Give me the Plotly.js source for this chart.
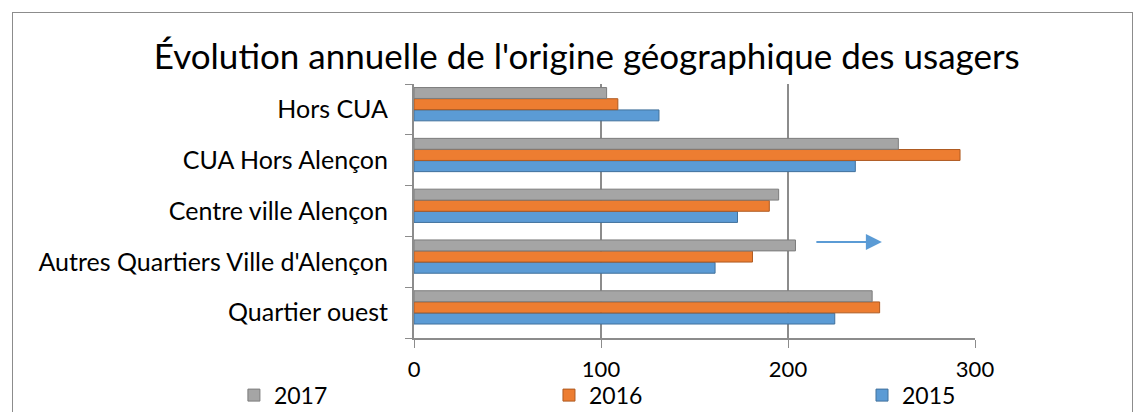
<!DOCTYPE html>
<html>
<head>
<meta charset="utf-8">
<script src="https://cdn.plot.ly/plotly-3.0.1.min.js"></script>
<style>
html,body{margin:0;padding:0;background:#fff;}
#chart{width:1146px;height:412px;}
#frame{position:absolute;left:12px;top:12px;width:1121px;height:420px;border:1px solid #8c8c8c;box-sizing:border-box;pointer-events:none;}
</style>
</head>
<body>
<div id="chart"></div>
<div id="frame"></div>
<script>
const categories = ['Quartier ouest', "Autres Quartiers Ville d'Alençon", 'Centre ville Alençon', 'CUA Hors Alençon', 'Hors CUA'];
const seriesNames = ['2015', '2016', '2017'];
const values2015 = [225, 161, 173, 236, 131];
const values2016 = [249, 181, 190, 292, 109];
const values2017 = [245, 204, 195, 259, 103];
const xTicks = [0, 100, 200, 300];

const colors = ['#5B9BD5', '#ED7D31', '#A5A5A5'];
const lines = ['#41719C', '#AE5A21', '#7C7C7C'];
const offsets = [-0.225, -0.005, 0.215];
const legendIds = ['legend3', 'legend2', 'legend'];
const allValues = [values2015, values2016, values2017];

const traces = allValues.map((v, i) => ({
  type: 'bar',
  orientation: 'h',
  name: seriesNames[i],
  y: categories,
  x: v,
  width: 0.215,
  offset: offsets[i],
  legend: legendIds[i],
  marker: {color: colors[i], line: {color: lines[i], width: 1}},
  hoverinfo: 'x+name'
}));

const legendFont = {family: 'Lato, sans-serif', size: 23, color: '#000'};
function legendAt(x) {
  return {x: x, xanchor: 'left', y: -0.225, yanchor: 'middle', orientation: 'h',
          font: legendFont, bgcolor: 'rgba(0,0,0,0)'};
}

const layout = {
  width: 1146, height: 412,
  margin: {l: 414, r: 171, t: 84, b: 74, autoexpand: false},
  paper_bgcolor: '#fff', plot_bgcolor: '#fff',
  barmode: 'overlay',
  font: {family: 'Lato, sans-serif', color: '#000'},
  title: {
    text: "Évolution annuelle de l'origine géographique des usagers",
    font: {family: 'Lato, sans-serif', size: 35, color: '#000'},
    x: 0.512, xref: 'container', xanchor: 'center',
    y: 0.862, yref: 'container', yanchor: 'middle'
  },
  xaxis: {
    range: [0, 300],
    tickvals: xTicks,
    ticktext: xTicks.map(String),
    showgrid: true, gridcolor: '#8c8c8c', gridwidth: 2,
    zeroline: false,
    showline: true, linecolor: '#8c8c8c', linewidth: 2,
    ticks: 'outside', ticklen: 8, tickcolor: '#8c8c8c', tickwidth: 1,
    ticklabelstandoff: 3,
    tickfont: {family: 'Lato, sans-serif', size: 22, color: '#000'},
    fixedrange: true
  },
  yaxis: {
    type: 'category',
    categoryorder: 'array', categoryarray: categories,
    range: [-0.5, 4.5],
    showgrid: false, zeroline: false,
    showline: true, linecolor: '#8c8c8c', linewidth: 2,
    ticks: 'outside', tickson: 'boundaries', ticklen: 7, tickcolor: '#8c8c8c', tickwidth: 1,
    ticklabelstandoff: 19,
    tickfont: {family: 'Lato, sans-serif', size: 25, color: '#000'},
    fixedrange: true
  },
  showlegend: true,
  legend: legendAt(-0.321),
  legend2: legendAt(0.2406),
  legend3: legendAt(0.7986),
  annotations: [{
    xref: 'paper', yref: 'paper',
    x: 0.834, y: 0.378,
    ax: -67, ay: 0,
    text: '',
    showarrow: true,
    arrowhead: 2, arrowsize: 1.6, arrowwidth: 2,
    arrowcolor: '#5B9BD5'
  }]
};

Plotly.newPlot('chart', traces, layout, {displayModeBar: false, staticPlot: true});
</script>
</body>
</html>
